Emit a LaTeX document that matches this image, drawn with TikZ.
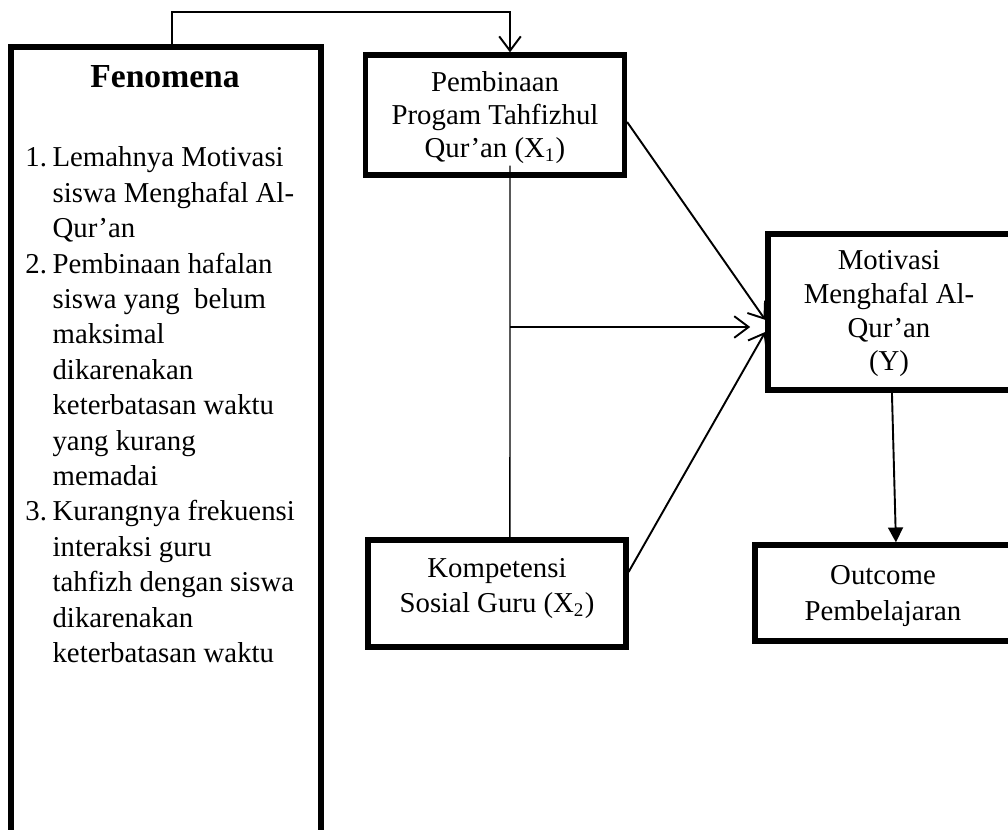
\documentclass[tikz,border=0pt]{standalone}
\usepackage{fontspec}
\setmainfont{Liberation Serif}
\usetikzlibrary{arrows.meta}
\begin{document}
\begin{tikzpicture}[x=0.4167pt,y=-0.4167pt,
  box/.style={draw, line width=2.2pt, inner sep=0pt},
  conn/.style={line width=0.8pt},
  barb/.style={conn, -{Straight Barb[length=6pt,width=9pt,line width=0.8pt]}},
  tri/.style={conn, -{Triangle[length=6.2pt,width=6.2pt]}},
  txt/.style={inner sep=0pt, anchor=base}]
\useasboundingbox (0,0) rectangle (1008,830);
\clip (0,0) rectangle (1008,830);

% boxes
\node[box, minimum width=129.2pt, minimum height=355.4pt] (Fen) at (166,473.5) {};
\node[box, minimum width=107.9pt, minimum height=50pt] (X1) at (495,115) {};
\node[box, minimum width=102.1pt, minimum height=65pt] (Y) at (890.5,312) {};
\node[box, minimum width=107.5pt, minimum height=44.6pt] (X2) at (497,593.5) {};
\node[box, minimum width=106.7pt, minimum height=40pt] (Out) at (883,593) {};

% texts
\node[txt, font=\fontsize{14}{16}\selectfont\bfseries] (fent) at (165,88) {Fenomena};
\node[txt, anchor=base west, font=\fontsize{12}{14.75}\selectfont] (list) at (25,167)
 {\begin{tabular}[t]{@{}p{11.3pt}@{}l@{}}
 1. & Lemahnya Motivasi\\
    & siswa Menghafal Al-\\
    & Qur’an\\
 2. & Pembinaan hafalan\\
    & siswa yang\ \ belum\\
    & maksimal\\
    & dikarenakan\\
    & keterbatasan waktu\\
    & yang kurang\\
    & memadai\\
 3. & Kurangnya frekuensi\\
    & interaksi guru\\
    & tahfizh dengan siswa\\
    & dikarenakan\\
    & keterbatasan waktu
 \end{tabular}};
\node[txt, font=\fontsize{12}{13.6}\selectfont] (x1t) at (495,92)
 {\begin{tabular}[t]{@{}c@{}}Pembinaan\\Progam Tahfizhul\\Qur’an (X\textsubscript{1})\end{tabular}};
\node[txt, font=\fontsize{12}{14}\selectfont] (yt) at (889,270)
 {\begin{tabular}[t]{@{}c@{}}Motivasi\\Menghafal Al-\\Qur’an\\(Y)\end{tabular}};
\node[txt, font=\fontsize{12}{14.2}\selectfont] (x2t) at (497,578)
 {\begin{tabular}[t]{@{}c@{}}Kompetensi\\Sosial Guru (X\textsubscript{2})\end{tabular}};
\node[txt, font=\fontsize{12}{15}\selectfont] (outt) at (883,585)
 {\begin{tabular}[t]{@{}c@{}}Outcome\\Pembelajaran\end{tabular}};

% connectors
\coordinate (topc) at (341,12);
\draw[barb] ([xshift=2.5pt]Fen.north) |- (topc) -| ([xshift=6.25pt]X1.north);
\draw[line width=0.6pt] ([xshift=6.25pt,yshift=5pt]X1.south) -- ([xshift=5.4pt]X2.north);
\coordinate (mid) at (510,327);
\draw[barb, shorten >=6.3pt] (mid) -- (mid -| Y.west);
\draw[barb] ([yshift=-2.9pt]X1.east) -- ([yshift=-3.3pt]Y.west);
\draw[barb] ([yshift=9pt]X2.east) -- ([yshift=-8.3pt]Y.west);
\draw[tri] ([xshift=0.6pt]Y.south) -- ([xshift=5.4pt]Out.north);
\end{tikzpicture}
\end{document}
